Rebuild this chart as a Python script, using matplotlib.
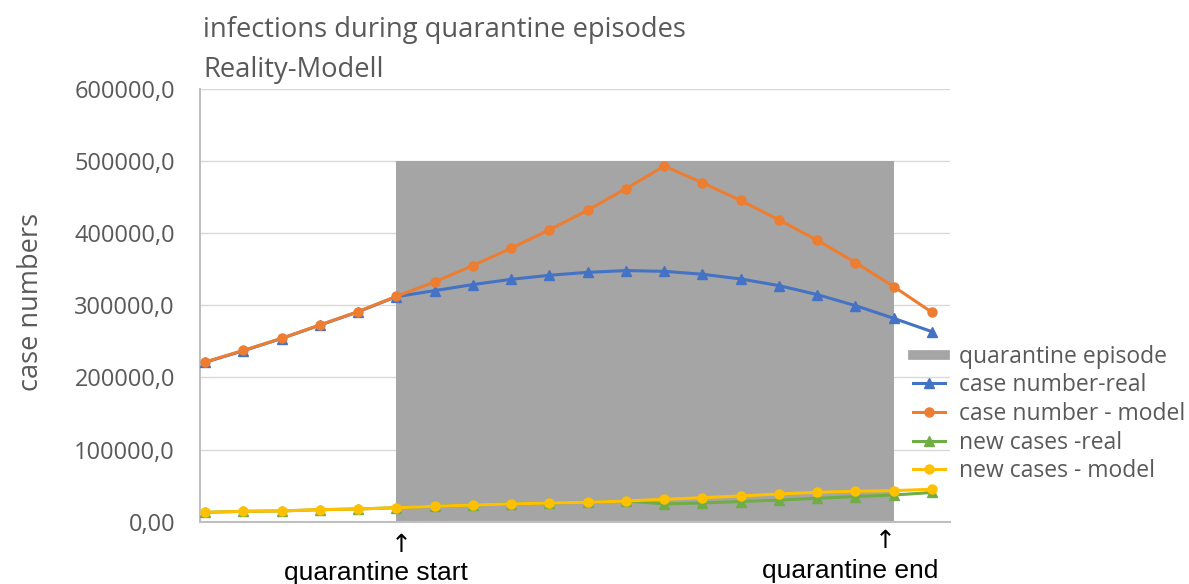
import numpy as np
import matplotlib
matplotlib.use("Agg")
import matplotlib.pyplot as plt
from matplotlib.lines import Line2D

plt.rcParams['font.family'] = ['Open Sans', 'DejaVu Sans']

# data (20 time steps)
days = np.arange(20)
case_real = [221000, 237000, 254000, 272500, 291000, 312000, 320400, 328800, 336100, 341700,
             345800, 348200, 347200, 343100, 336600, 327400, 314900, 299600, 282000, 263500]
case_model = [221400, 237500, 254200, 272800, 291300, 312500, 332500, 355100, 379200, 404700,
              431900, 461700, 493100, 470000, 445400, 418600, 390300, 359300, 326000, 290300]
new_real = [13000, 14400, 14900, 16700, 17600, 19400, 21300, 23200, 24600, 26000,
            26900, 28700, 24600, 26000, 28000, 30000, 32500, 34800, 37000, 40500]
new_model = [13000, 14400, 14900, 16700, 17600, 19400, 21300, 23200, 24600, 26000,
             26900, 28700, 31100, 33300, 35700, 38500, 40800, 42200, 43100, 45000]
quarantine_start = 5
quarantine_end = 18
quarantine_height = 500000

yticks = [0, 100000, 200000, 300000, 400000, 500000, 600000]
ytick_labels = ['0,00', '100000,0', '200000,0', '300000,0', '400000,0', '500000,0', '600000,0']

blue = '#4472C4'
orange = '#ED7D31'
green = '#70AD47'
yellow = '#FFC000'
grey = '#A5A5A5'
txt = '#595959'

fig = plt.figure(figsize=(11.89, 5.84), dpi=100)
ax = fig.add_axes([200/1189, 1-521.7/584, 750/1189, (521.7-89)/584])

ax.bar(quarantine_start, quarantine_height, width=quarantine_end-quarantine_start,
       align='edge', color=grey, zorder=1)
ax.plot(days, case_real, color=blue, lw=2.2, marker='^', ms=6.5, zorder=3)
ax.plot(days, case_model, color=orange, lw=2.2, marker='o', ms=6.5, zorder=4)
ax.plot(days, new_real, color=green, lw=2.2, marker='^', ms=6.5, zorder=3)
ax.plot(days, new_model, color=yellow, lw=2.2, marker='o', ms=6.5, zorder=4)

ax.set_xlim(-0.13, 19.47)
ax.set_ylim(0, 600000)
ax.set_yticks(yticks)
ax.set_yticklabels(ytick_labels)
ax.set_xticks([])
ax.tick_params(axis='y', length=0, pad=18, labelsize=17, labelcolor=txt)
ax.grid(axis='y', color='#D9D9D9', lw=1, zorder=0)
ax.set_axisbelow(True)
for s in ['top', 'right']:
    ax.spines[s].set_visible(False)
ax.spines['left'].set_color('#BFBFBF')
ax.spines['bottom'].set_color('#BFBFBF')
ax.spines['left'].set_linewidth(1.5)
ax.spines['bottom'].set_linewidth(1.5)

fig.text(203/1189, 1-30/584, 'infections during quarantine episodes', fontsize=19.7,
         color=txt, va='center', ha='left')
fig.text(203/1189, 1-70/584, 'Reality-Modell', fontsize=19.7, color=txt, va='center', ha='left')
fig.text(31/1189, 1-302/584, 'case numbers', fontsize=19.5, color=txt, rotation=90,
         va='center', ha='center')

# quarantine markers below the axis
fig.text(401/1189, 1-545/584, '\u2191', fontsize=18, family='DejaVu Sans', ha='center', va='center')
fig.text(885/1189, 1-541/584, '\u2191', fontsize=18, family='DejaVu Sans', ha='center', va='center')
fig.text(376/1189, 1-573/584, 'quarantine start', fontsize=19, family='Liberation Sans',
         ha='center', va='center')
fig.text(850/1189, 1-571/584, 'quarantine end', fontsize=19, family='Liberation Sans',
         ha='center', va='center')

handles = [
    Line2D([], [], color=grey, lw=7),
    Line2D([], [], color=blue, lw=2.2, marker='^', ms=6.5),
    Line2D([], [], color=orange, lw=2.2, marker='o', ms=6.5),
    Line2D([], [], color=green, lw=2.2, marker='^', ms=6.5),
    Line2D([], [], color=yellow, lw=2.2, marker='o', ms=6.5),
]
labels = ['quarantine episode', 'case number-real', 'case number - model',
          'new cases -real', 'new cases - model']
leg = fig.legend(handles, labels, loc='center left', bbox_to_anchor=(913/1189, 1-414/584),
                 frameon=False, fontsize=16.5, handlelength=1.4, handletextpad=0.6,
                 labelspacing=0.2, borderaxespad=0, borderpad=0)
for t in leg.get_texts():
    t.set_color(txt)

fig.savefig('out.png', dpi=100)
